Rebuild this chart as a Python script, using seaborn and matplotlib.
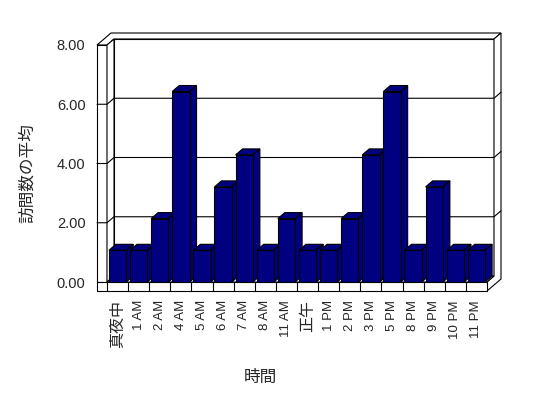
import pandas as pd
import matplotlib
matplotlib.use("Agg")
import matplotlib.pyplot as plt
from matplotlib.patches import Polygon
from matplotlib.lines import Line2D
from matplotlib.transforms import IdentityTransform
import seaborn as sns

# データ
hours = ['真夜中', '1 AM', '2 AM', '4 AM', '5 AM', '6 AM', '7 AM', '8 AM', '11 AM',
         '正午', '1 PM', '2 PM', '3 PM', '5 PM', '8 PM', '9 PM', '10 PM', '11 PM']
avg_visits = [1.07, 1.07, 2.14, 6.43, 1.07, 3.21, 4.29, 1.07, 2.14,
              1.07, 1.07, 2.14, 4.29, 6.43, 1.07, 3.21, 1.07, 1.07]
y_ticks = [0, 2, 4, 6, 8]
x_title = '時間'
y_title = '訪問数の平均'

NAVY = '#000080'
LW = 0.8
DX, DY = 7, 6      # 奥行き1単位 (px)
SW, FT = 10, 9     # 側壁・床の厚み (px)

sns.set_style('white')
plt.rcParams['font.family'] = ['Liberation Sans', 'Noto Sans CJK JP', 'DejaVu Sans']

fig = plt.figure(figsize=(5.48, 3.98), dpi=100)
fig.patch.set_facecolor('white')
ax = fig.add_axes([107 / 548, 116 / 398, 380 / 548, 237 / 398])
ax.patch.set_visible(False)

df = pd.DataFrame({x_title: hours, y_title: avg_visits})
sns.barplot(data=df, x=x_title, y=y_title, color=NAVY, saturation=1, width=0.82,
            edgecolor='black', linewidth=LW, ax=ax)
bars = list(ax.patches)

x0, x1 = -0.5, len(hours) - 0.5
ax.set_xlim(x0, x1)
ax.set_ylim(y_ticks[0], y_ticks[-1])
ytop = y_ticks[-1]
for s in ax.spines.values():
    s.set_visible(False)


def P(x, y, k=0, ex=0, ey=0):
    X, Y = ax.transData.transform((x, y))
    return (X + k * DX + ex, Y + k * DY + ey)


def face(pts, fc='white', z=1):
    ax.add_patch(Polygon(pts, closed=True, facecolor=fc, edgecolor='black', lw=LW,
                         transform=IdentityTransform(), clip_on=False, zorder=z))


def line(pts, z=2):
    xs, ys = zip(*pts)
    ax.add_line(Line2D(xs, ys, color='black', lw=LW, transform=IdentityTransform(),
                       clip_on=False, zorder=z))


# 奥の壁
face([P(x0, 0, 1), P(x1, 0, 1), P(x1, ytop, 1), P(x0, ytop, 1)], z=1)
# 上面 (L字)
face([P(x0, ytop, 0, -SW), P(x0, ytop, 0), P(x0, ytop, 1), P(x1, ytop, 1),
      P(x1, ytop, 2), P(x0, ytop, 2, -SW)], z=1)
# 右側面 (L字)
face([P(x1, 0, 0), P(x1, 0, 0, 0, -FT), P(x1, 0, 2, 0, -FT), P(x1, ytop, 2),
      P(x1, ytop, 1), P(x1, 0, 1)], z=1)
# 側壁
face([P(x0, 0, 0, -SW), P(x0, 0, 0), P(x0, ytop, 0), P(x0, ytop, 0, -SW)], z=1)
face([P(x0, 0, 0), P(x0, ytop, 0), P(x0, ytop, 1), P(x0, 0, 1)], z=1)
# 床
face([P(x0, 0, 0), P(x1, 0, 0), P(x1, 0, 1), P(x0, 0, 1)], z=1)
face([P(x0, 0, 0, -SW), P(x1, 0, 0), P(x1, 0, 0, 0, -FT), P(x0, 0, 0, -SW, -FT)], z=1)
for b in [x0] + [i + 0.5 for i in range(len(hours) - 1)]:
    line([P(b, 0, 0), P(b, 0, 0, 0, -FT)], z=2)

# 目盛線
for v in y_ticks[1:-1]:
    line([P(x0, v, 0, -SW), P(x0, v, 0), P(x0, v, 1), P(x1, v, 1), P(x1, v, 2)], z=2)

# 3D 棒
for i, p in enumerate(bars):
    x, w, h = p.get_x(), p.get_width(), p.get_height()
    face([P(x, h, 0), P(x + w, h, 0), P(x + w, h, 1), P(x, h, 1)], fc=NAVY, z=10 + 2 * i)
    face([P(x + w, 0, 0), P(x + w, h, 0), P(x + w, h, 1), P(x + w, 0, 1)], fc=NAVY, z=10 + 2 * i)
    p.set_zorder(11 + 2 * i)

# 目盛ラベル
ax.set_yticks(y_ticks)
ax.set_yticklabels([f'{v:.2f}' for v in y_ticks], fontsize=10.5)
ax.tick_params(axis='y', length=0, pad=15.5)
ax.tick_params(axis='x', length=0, pad=13)
ax.set_xticks(range(len(hours)))
ax.set_xticklabels(hours, rotation=90, va='top', ha='center', fontsize=9.5)
for t in ax.get_xticklabels():
    if not t.get_text()[0].isascii():
        t.set_fontsize(11.5)
        t.set_family(['Noto Sans CJK JP'])

ax.set_xlabel(x_title, fontsize=12, family=['Noto Sans CJK JP'])
ax.set_ylabel(y_title, fontsize=12, family=['Noto Sans CJK JP'])
ax.xaxis.label.set_va('center')
ax.yaxis.label.set_va('center')
ax.xaxis.set_label_coords((260 - 107) / 380, (282 - 377) / 237)
ax.yaxis.set_label_coords((27 - 107) / 380, (282 - 173) / 237)

fig.savefig('out.png', dpi=100, facecolor='white')
